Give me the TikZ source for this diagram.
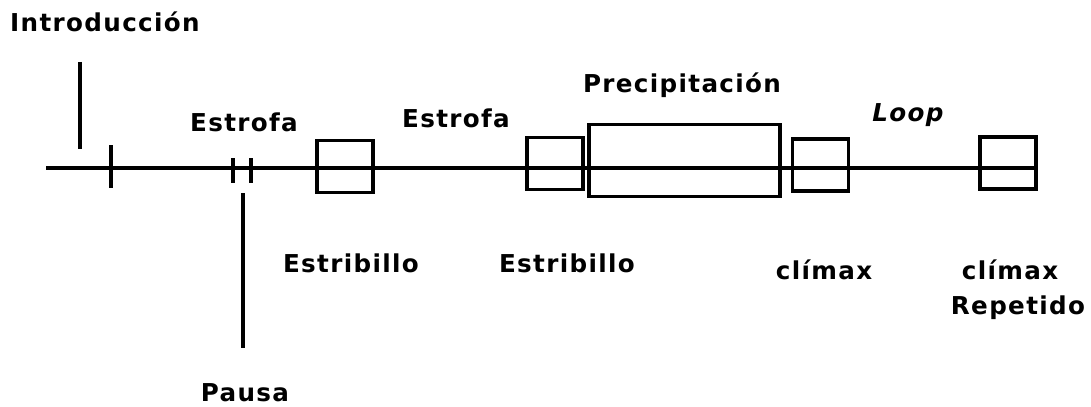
\documentclass[tikz,border=0pt]{standalone}
\usepackage{fontspec}
\newfontfamily\lblfont[LetterSpace=5.5]{DejaVu Sans}

\begin{document}
\begin{tikzpicture}[x=0.025cm, y=-0.025cm, line width=2.2pt,
    lbl/.style={anchor=base, inner sep=0pt, font=\lblfont\bfseries\fontsize{17.5}{21}\selectfont},
    part/.style={draw, line width=2.2pt, inner sep=0pt, minimum width=1.4cm, minimum height=1.3cm}]
  \useasboundingbox (0,0) rectangle (1091,407);

  % Time line of the song
  \coordinate (start) at (46,168);
  \coordinate (finish) at (1036,168);
  \draw (start) -- (finish);

  % Sections as boxes on the line
  \node[part] (chorusA) at (345,166.5) {};
  \node[part] (chorusB) at (555,163.5) {};
  \node[part, minimum width=4.775cm, minimum height=1.8cm] (rush) at (684.5,160.5) {};
  \node[part] (peak) at (820.5,165) {};
  \node[part] (peakAgain) at (1008,163) {};

  % Ticks: intro end and the pause
  \draw (111,145) -- (111,188);
  \draw (233,158) -- (233,183);
  \draw (251,158) -- (251,183);

  % Leader lines
  \draw (80,62) -- (80,149);
  \draw (243,193) -- (243,348);

  % Labels
  \node[lbl] (intro) at (105,32) {Introducción};
  \node[lbl] (verseA) at (244,132) {Estrofa};
  \node[lbl] (verseB) at (456,127) {Estrofa};
  \node[lbl] (rushText) at (682,93) {Precipitación};
  \node[lbl] (loop) at (908,121) {\itshape Loop};
  \node[lbl] (chorusTextA) at (351,272) {Estribillo};
  \node[lbl] (chorusTextB) at (567,272) {Estribillo};
  \node[lbl] (peakText) at (824,279) {clímax};
  \node[lbl] (peakTextB) at (1010,279) {clímax};
  \node[lbl] (again) at (1018,314) {Repetido};
  \node[lbl] (pause) at (245,401) {Pausa};
\end{tikzpicture}
\end{document}
